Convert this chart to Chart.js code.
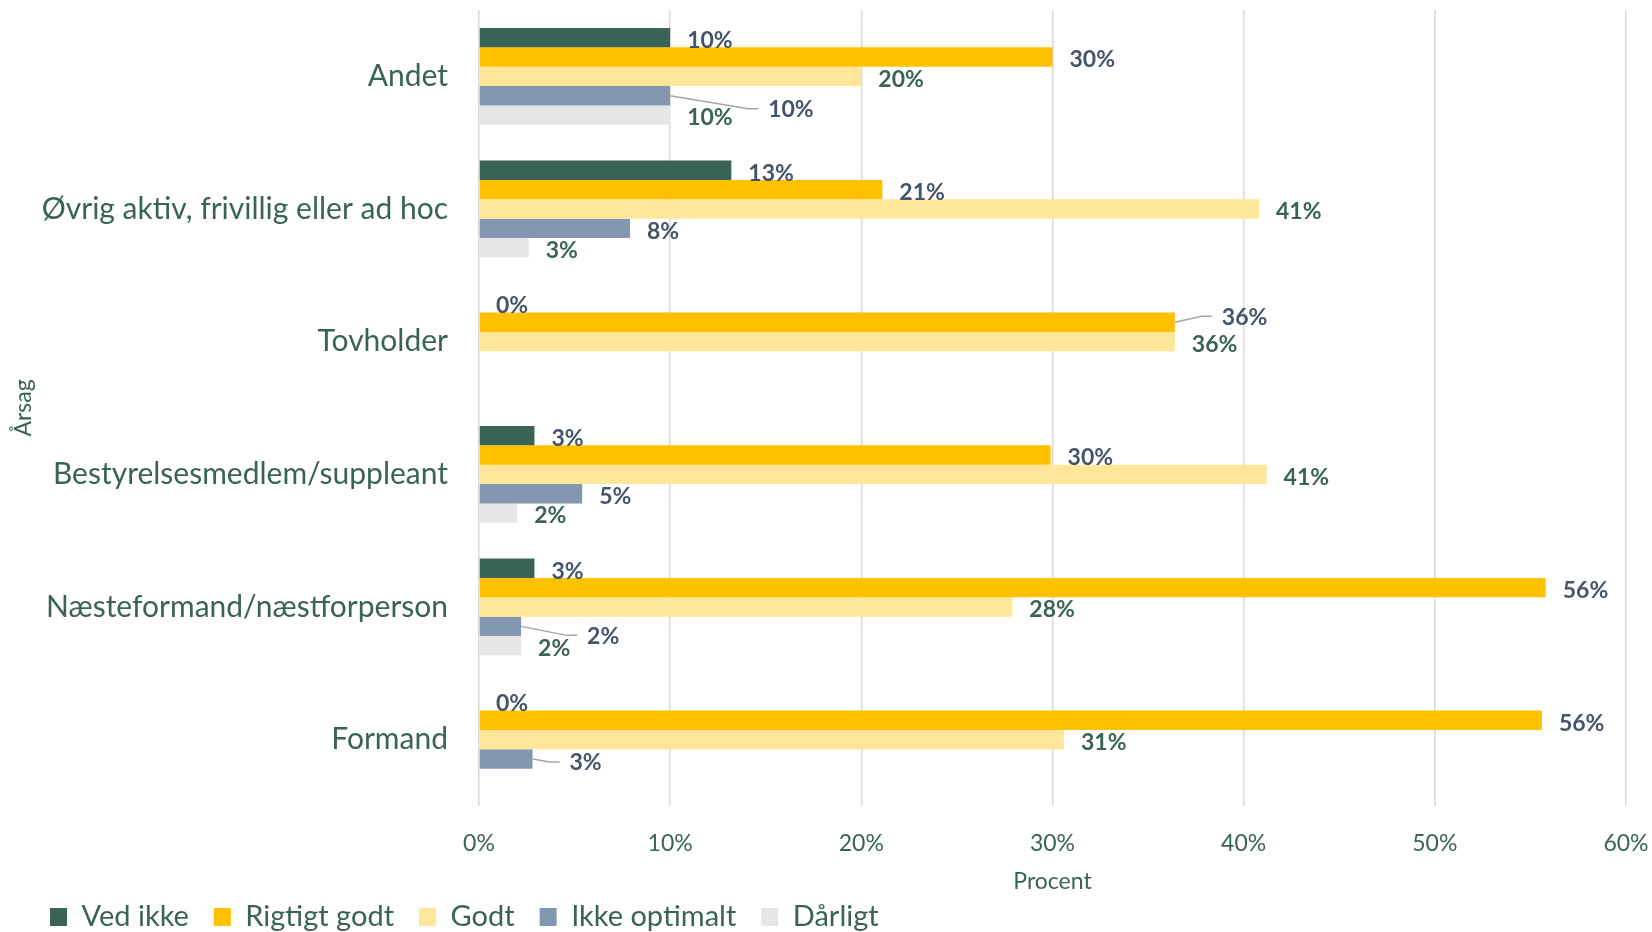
<!DOCTYPE html>
<html>
<head>
<meta charset="utf-8">
<title>Årsag</title>
<script src="https://cdn.jsdelivr.net/npm/chart.js@4/dist/chart.umd.min.js"></script>
<style>
  html, body { margin: 0; padding: 0; background: #fff; }
</style>
</head>
<body>
<canvas id="chart" width="1652" height="932"></canvas>
<script>
// Data (percent)
const categories = ['Andet', 'Øvrig aktiv, frivillig eller ad hoc', 'Tovholder', 'Bestyrelsesmedlem/suppleant', 'Næsteformand/næstforperson', 'Formand'];
const seriesNames = ['Ved ikke', 'Rigtigt godt', 'Godt', 'Ikke optimalt', 'Dårligt'];

const vedIkke      = [10, 13.2, 0, 2.9, 2.9, 0];
const rigtigtGodt  = [30, 21.1, 36.4, 29.9, 55.8, 55.6];
const godt         = [20, 40.8, 36.4, 41.2, 27.9, 30.6];
const ikkeOptimalt = [10, 7.9, null, 5.4, 2.2, 2.8];
const daarligt     = [10, 2.6, null, 2.0, 2.2, null];

const xTicks = [0, 10, 20, 30, 40, 50, 60];

const green = '#3A6357';
const navy = '#44546A';
const barColors = ['#3A6357', '#FFC000', '#FFE699', '#8497B0', '#E7E6E6'];
const labelColors = [navy, navy, green, navy, green];
const FONT = 'Lato';

// labels Excel moved off the bar end (dataset-category -> [dx, dy]), drawn with a leader line
const movedLabels = { '3-0': [81, 11], '1-2': [30, -8], '3-4': [49, 7], '3-5': [20, 1] };

const valueLabels = {
  id: 'valueLabels',
  afterDatasetsDraw(chart) {
    const ctx = chart.ctx;
    ctx.save();
    ctx.font = 'bold 23px ' + FONT;
    ctx.textAlign = 'left';
    ctx.textBaseline = 'middle';
    chart.data.datasets.forEach((ds, di) => {
      chart.getDatasetMeta(di).data.forEach((el, i) => {
        const v = ds.data[i];
        if (v === null || v === undefined) return;
        let tx = el.x + 17;
        let ty = el.y + 3;
        const mv = movedLabels[di + '-' + i];
        if (mv) {
          tx += mv[0];
          ty += mv[1];
          ctx.strokeStyle = '#A6A6A6';
          ctx.lineWidth = 1.5;
          ctx.beginPath();
          ctx.moveTo(el.x, el.y);
          ctx.lineTo(tx - 20, ty - 1);
          ctx.lineTo(tx - 10, ty - 1);
          ctx.stroke();
        }
        ctx.fillStyle = labelColors[di];
        ctx.fillText(Math.round(v) + '%', tx, ty);
      });
    });
    ctx.restore();
  }
};

const seriesData = [vedIkke, rigtigtGodt, godt, ikkeOptimalt, daarligt];

new Chart(document.getElementById('chart').getContext('2d'), {
  type: 'bar',
  data: {
    labels: categories,
    datasets: seriesNames.map((name, k) => ({
      label: name,
      data: seriesData[k],
      backgroundColor: barColors[k],
      categoryPercentage: 0.73,
      barPercentage: 1.0
    }))
  },
  options: {
    indexAxis: 'y',
    responsive: false,
    animation: false,
    layout: { padding: { top: 10, left: 25, right: 26, bottom: 0 } },
    scales: {
      x: {
        min: 0,
        max: 60,
        afterBuildTicks: (scale) => { scale.ticks = xTicks.map(v => ({ value: v })); },
        afterFit: (scale) => {
          scale.height = 71.6;
          scale.paddingLeft = 0;
          scale.paddingRight = 0;
        },
        grid: { color: '#D9D9D9', lineWidth: 1.5, drawTicks: false },
        border: { display: false },
        ticks: {
          padding: 24,
          color: green,
          font: { family: FONT, size: 23 },
          callback: v => v + '%'
        },
        title: {
          display: true,
          text: 'Procent',
          color: green,
          font: { family: FONT, size: 23 },
          padding: { top: 0, bottom: -18 }
        }
      },
      y: {
        afterFit: (scale) => {
          scale.width = 454;
          scale.paddingTop = 0;
          scale.paddingBottom = 0;
        },
        grid: { display: false },
        border: { display: false },
        ticks: {
          padding: 23,
          color: green,
          font: { family: FONT, size: 30 }
        },
        title: {
          display: true,
          text: 'Årsag',
          color: green,
          font: { family: FONT, size: 23 },
          padding: { top: -15, bottom: 0 }
        }
      }
    },
    plugins: {
      legend: {
        position: 'bottom',
        align: 'start',
        maxHeight: 54.4,
        labels: {
          boxWidth: 17,
          boxHeight: 18,
          padding: 25,
          color: green,
          font: { family: FONT, size: 29 }
        }
      },
      tooltip: { enabled: false }
    }
  },
  plugins: [valueLabels]
});
</script>
</body>
</html>
